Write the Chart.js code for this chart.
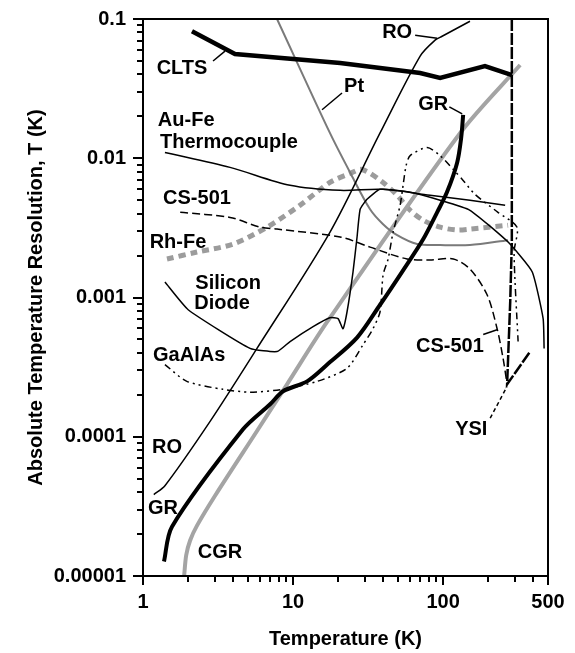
<!DOCTYPE html>
<html>
<head>
<meta charset="utf-8">
<script src="https://cdn.jsdelivr.net/npm/chart.js@4"></script>
<style>
  html, body { margin: 0; padding: 0; background: #fff; }
  canvas { display: block; }
</style>
</head>
<body>
<canvas id="chart" width="575" height="653" style="width:575px;height:653px"></canvas>
<script>
// values: temperature (K) and resolution (K)
const cltsT = [2.12, 4.1, 20.6, 70.3, 95.5, 190, 288];
const cltsRes = [0.0817, 0.056, 0.0483, 0.0409, 0.0377, 0.0459, 0.0396];

const cgrT = [1.88, 1.94, 2.06, 2.29, 3.02, 5.75, 9.12, 16.9, 130, 326];
const cgrRes = [1e-5, 1.41e-5, 1.8e-5, 2.3e-5, 3.77e-5, 1.1e-4, 2.38e-4, 6.7e-4, 0.0152, 0.0467];

const grT = [1.38, 1.56, 4.64, 7.03, 8.58, 12.4, 16.9, 26.7, 38, 53.3, 73.6, 91.2, 106, 124, 132, 136];
const grRes = [1.27e-5, 2.26e-5, 1.13e-4, 1.71e-4, 2.12e-4, 2.5e-4, 3.3e-4, 5.15e-4, 8.87e-4, 0.00153, 0.00262, 0.00409, 0.00569, 0.0093, 0.0141, 0.0205];

const roT = [1.18, 1.4, 2.8, 5.75, 17.6, 38, 70.3, 88.4, 98.5, 151];
const roRes = [3.84e-5, 4.45e-5, 1.29e-4, 4.31e-4, 0.00294, 0.0152, 0.0542, 0.0705, 0.0752, 0.0964];

const ptT = [7.82, 17.6, 24, 32.6, 39.8, 49.4, 67.1, 95.5, 151, 271];
const ptRes = [0.1, 0.0152, 0.0079, 0.0043, 0.00336, 0.0028, 0.00242, 0.00238, 0.00238, 0.00258];

const rhfeT = [1.445, 2.29, 3.98, 6.71, 11.1, 17.6, 24, 28.8, 39.8, 49.4, 60.3, 73.6, 95.5, 124, 151, 271];
const rhfeRes = [0.00189, 0.00212, 0.00242, 0.0032, 0.00459, 0.0067, 0.00778, 0.0083, 0.0067, 0.00542, 0.00423, 0.00359, 0.0032, 0.00305, 0.0031, 0.0033];

const aufeT = [1.4, 3.8, 9.55, 20.6, 39.8, 81.9, 151, 259];
const aufeRes = [0.011, 0.0086, 0.00639, 0.00588, 0.00598, 0.00542, 0.00499, 0.00459];

const cs501T = [1.77, 3.8, 6.03, 7.82, 20.6, 32.6, 57.5, 81.9, 117, 151, 196, 229, 251, 267];
const cs501Res = [0.00409, 0.00376, 0.0032, 0.0031, 0.00272, 0.0023, 0.00189, 0.00186, 0.00189, 0.0016, 0.00105, 5.97e-4, 3.65e-4, 2.38e-4];

const siT = [1.4, 2.0, 5.17, 7.82, 9.55, 13.6, 17.6, 19.95, 21.5, 22.9, 25.1, 26.7, 28, 31.1, 38, 60.3, 95.5, 151, 271, 392, 464, 471];
const siRes = [0.00129, 8.17e-4, 4.31e-4, 4.09e-4, 4.83e-4, 6.18e-4, 7.16e-4, 7.05e-4, 5.97e-4, 7.9e-4, 0.00153, 0.00272, 0.0043, 0.00507, 0.00598, 0.00569, 0.00499, 0.00423, 0.0025, 0.00153, 7.05e-4, 4.3e-4];

const gaalasT = [1.4, 1.96, 3.41, 5.17, 8.58, 14.5, 22.9, 29.3, 34.1, 38, 39.8, 43, 46.4, 51.7, 54.1, 56.7, 60.3, 78.2, 95.5, 117, 136, 163, 232, 311, 297, 316];
const gaalasRes = [3.3e-4, 2.5e-4, 2.19e-4, 2.09e-4, 2.19e-4, 2.5e-4, 3.1e-4, 4.59e-4, 5.97e-4, 7.9e-4, 0.00145, 0.00189, 0.00294, 0.00459, 0.00638, 0.00887, 0.01045, 0.01193, 0.01045, 0.0083, 0.00693, 0.00551, 0.00409, 0.0032, 0.00212, 4.83e-4];

const ysiT = [287, 287, 280, 267, 380];
const ysiRes = [0.1, 0.0025, 9.3e-4, 2.38e-4, 4.09e-4];

// axes
const xMajor = [1, 10, 100, 500];
const xTickLabels = ['1', '10', '100', '500'];
const xMinor = [2, 3, 4, 5, 6, 7, 8, 9, 20, 30, 40, 50, 60, 70, 80, 90, 200, 300, 400];
const yMajor = [1e-5, 1e-4, 1e-3, 1e-2, 1e-1];
const yTickLabels = ['0.00001', '0.0001', '0.001', '0.01', '0.1'];
const yMinor = [1e-5, 1e-4, 1e-3, 1e-2].flatMap(d => [2, 3, 4, 5, 6, 7, 8, 9].map(k => k * d));

// curve labels
const labelNames = ['CLTS', 'Pt', 'RO', 'GR', 'Au-Fe', 'Thermocouple', 'CS-501', 'Rh-Fe', 'Silicon', 'Diode', 'GaAlAs', 'RO', 'GR', 'CGR', 'CS-501', 'YSI'];
const labelT = [1.82, 25.5, 49.4, 85.8, 1.94, 3.74, 2.29, 1.71, 3.69, 3.36, 2.03, 1.445, 1.36, 3.26, 111, 154];
const labelRes = [0.0438, 0.0325, 0.0803, 0.0242, 0.0186, 0.0129, 0.00515, 0.0025, 0.00127, 9.0e-4, 3.84e-4, 8.4e-5, 3.05e-5, 1.48e-5, 4.45e-4, 1.13e-4];
const leaderFrom = [[2.93, 0.0499], [15.6, 0.0223], [65.1, 0.0765], [110, 0.0234], [185, 5.42e-4], [206, 1.36e-4]];
const leaderTo = [[3.52, 0.0588], [21.2, 0.0294], [91.2, 0.0728], [134, 0.0208], [229, 5.87e-4], [267, 2.3e-4]];
const leaderDashed = [false, false, false, false, false, true];

const FONT = '"Liberation Sans", Arial, Helvetica, sans-serif';

function pts(xs, ys) { return xs.map((x, i) => ({ x: x, y: ys[i] })); }

function series(xs, ys, color, width, dash, tension) {
  return {
    data: pts(xs, ys),
    showLine: true,
    borderColor: color,
    borderWidth: width,
    borderDash: dash || [],
    pointRadius: 0,
    tension: tension,
    fill: false
  };
}

// major + minor ticks for a log axis, labels only on the majors
function logTicks(major, minor) {
  return major.map(v => ({ value: v, major: true }))
    .concat(minor.map(v => ({ value: v, major: false })))
    .sort((p, q) => p.value - q.value);
}

function axisLabel(major, names) {
  return function (v) {
    const i = major.indexOf(v);
    return i >= 0 ? names[i] : '';
  };
}

function tickColour(c) { return c.tick && c.tick.major ? '#000' : 'rgba(0,0,0,0)'; }

const extras = {
  id: 'extras',
  afterDraw(chart) {
    const ctx = chart.ctx;
    const a = chart.chartArea;
    const xs = chart.scales.x, ys = chart.scales.y;
    ctx.save();
    ctx.setLineDash([]);
    ctx.strokeStyle = '#000';
    ctx.lineWidth = 2;
    ctx.strokeRect(a.left, a.top, a.right - a.left, a.bottom - a.top);

    // short ticks between the decades
    ctx.lineWidth = 2;
    ctx.beginPath();
    xMinor.forEach(v => {
      const p = Math.round(xs.getPixelForValue(v));
      ctx.moveTo(p, a.bottom); ctx.lineTo(p, a.bottom + 6);
    });
    yMinor.forEach(v => {
      const p = Math.round(ys.getPixelForValue(v));
      ctx.moveTo(a.left, p); ctx.lineTo(a.left - 6, p);
    });
    ctx.stroke();

    // axis titles
    ctx.fillStyle = '#000';
    ctx.font = 'bold 20px ' + FONT;
    ctx.textAlign = 'center';
    ctx.textBaseline = 'alphabetic';
    ctx.fillText('Temperature (K)', (a.left + a.right) / 2, 645);
    ctx.save();
    ctx.translate(42, (a.top + a.bottom) / 2);
    ctx.rotate(-Math.PI / 2);
    ctx.fillText('Absolute Temperature Resolution, T (K)', 0, 0);
    ctx.restore();

    // curve names
    ctx.textBaseline = 'middle';
    labelNames.forEach((t, i) => {
      ctx.fillText(t, xs.getPixelForValue(labelT[i]), ys.getPixelForValue(labelRes[i]));
    });
    ctx.lineWidth = 1.5;
    leaderFrom.forEach((f, i) => {
      ctx.setLineDash(leaderDashed[i] ? [4, 3] : []);
      ctx.beginPath();
      ctx.moveTo(xs.getPixelForValue(f[0]), ys.getPixelForValue(f[1]));
      ctx.lineTo(xs.getPixelForValue(leaderTo[i][0]), ys.getPixelForValue(leaderTo[i][1]));
      ctx.stroke();
    });
    ctx.restore();
  }
};

new Chart(document.getElementById('chart').getContext('2d'), {
  type: 'scatter',
  data: {
    datasets: [
      series(cltsT, cltsRes, '#000', 4.5, null, 0),
      series(grT, grRes, '#000', 4, null, 0.3),
      series(roT, roRes, '#000', 1.5, null, 0.3),
      series(aufeT, aufeRes, '#000', 1.5, null, 0.3),
      series(siT, siRes, '#000', 1.5, null, 0.15),
      series(cs501T, cs501Res, '#000', 1.5, [8, 4], 0.3),
      series(gaalasT, gaalasRes, '#000', 1.5, [7, 4, 2, 4, 2, 4], 0.25),
      series(ysiT, ysiRes, '#000', 2.5, [12, 2], 0),
      series(ptT, ptRes, '#7a7a7a', 2, null, 0.3),
      series(cgrT, cgrRes, '#a4a4a4', 4, null, 0.3),
      series(rhfeT, rhfeRes, '#9c9c9c', 5, [7, 5], 0.3)
    ]
  },
  options: {
    responsive: false,
    animation: false,
    devicePixelRatio: 1,
    layout: { padding: { left: 0, right: 27, top: 16, bottom: 0 } },
    plugins: { legend: { display: false }, tooltip: { enabled: false } },
    scales: {
      x: {
        type: 'logarithmic',
        min: 1,
        max: 500,
        afterFit: s => { s.height = 77; },
        afterBuildTicks: s => { s.ticks = logTicks(xMajor, xMinor); },
        grid: { display: true, drawOnChartArea: false, drawTicks: true, tickLength: 9, lineWidth: 2, color: tickColour },
        border: { display: true, color: '#000', width: 2 },
        ticks: {
          autoSkip: false,
          maxRotation: 0,
          padding: 5,
          color: '#000',
          font: { family: FONT, size: 20, weight: 'bold' },
          callback: axisLabel(xMajor, xTickLabels)
        }
      },
      y: {
        type: 'logarithmic',
        min: 1e-5,
        max: 0.1,
        afterFit: s => { s.width = 143; },
        afterBuildTicks: s => { s.ticks = logTicks(yMajor, yMinor); },
        grid: { display: true, drawOnChartArea: false, drawTicks: true, tickLength: 10, lineWidth: 2, color: tickColour },
        border: { display: true, color: '#000', width: 2 },
        ticks: {
          autoSkip: false,
          padding: 7,
          color: '#000',
          font: { family: FONT, size: 20, weight: 'bold' },
          callback: axisLabel(yMajor, yTickLabels)
        }
      }
    }
  },
  plugins: [extras]
});
</script>
</body>
</html>
